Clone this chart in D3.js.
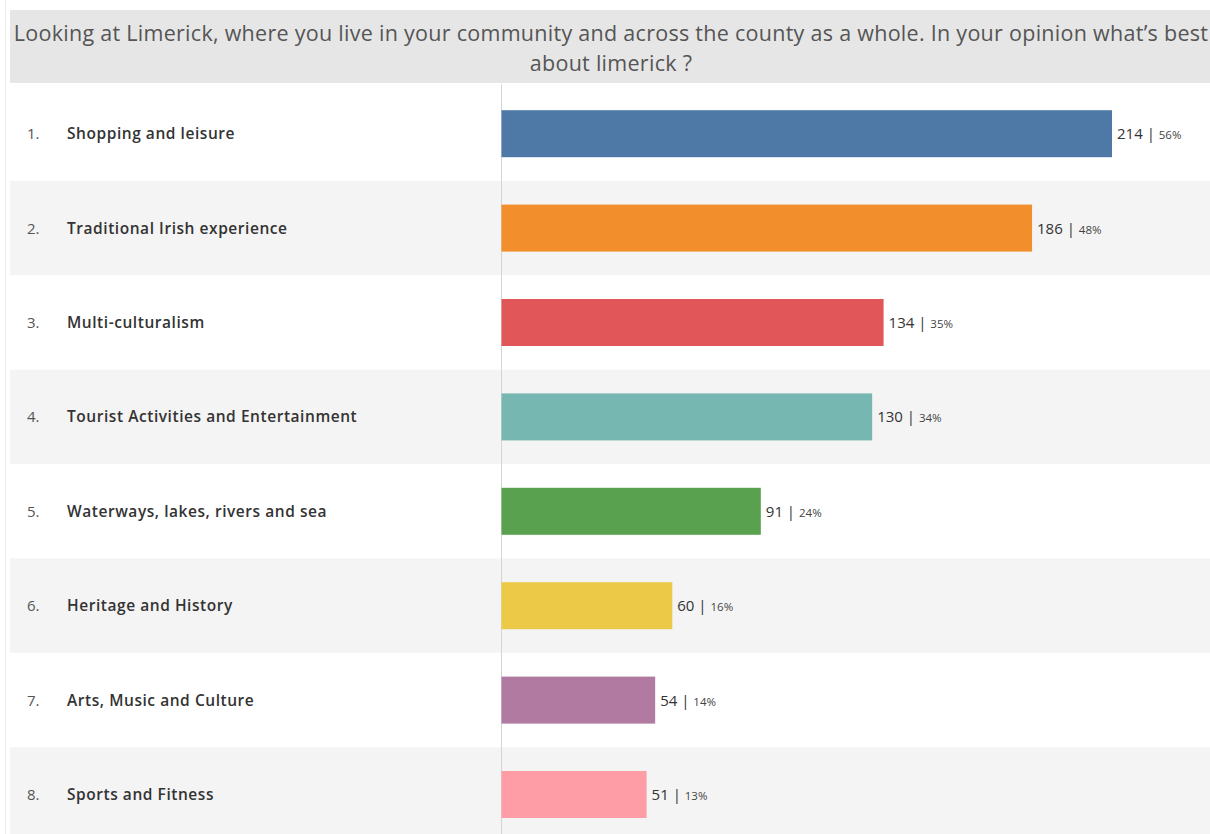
<!DOCTYPE html>
<html>
<head>
<meta charset="utf-8">
<script src="https://cdn.jsdelivr.net/npm/d3@7"></script>
<style>
  html, body { margin: 0; padding: 0; background: #fff; }
  svg { display: block; }
</style>
</head>
<body>
<svg id="chart" width="1210" height="834"></svg>
<script>
const titleLines = ["Looking at Limerick, where you live in your community and across the county as a whole. In your opinion what\u2019s best", "about limerick ?"];
const categories = ["Shopping and leisure", "Traditional Irish experience", "Multi-culturalism", "Tourist Activities and Entertainment", "Waterways, lakes, rivers and sea", "Heritage and History", "Arts, Music and Culture", "Sports and Fitness"];
const counts = [214, 186, 134, 130, 91, 60, 54, 51];
const percents = ["56%", "48%", "35%", "34%", "24%", "16%", "14%", "13%"];
const colors = ["#4e79a7", "#f28e2b", "#e15759", "#76b7b2", "#59a14f", "#edc948", "#b07aa1", "#ff9da7"];

(function () {
const svg = d3.select("#chart");
const W = 1210, H = 834;
const font = "'Open Sans', sans-serif";

// faint left border
svg.append("line").attr("x1", 5.5).attr("x2", 5.5).attr("y1", 0).attr("y2", H)
  .attr("stroke", "#ececec").attr("stroke-width", 1);

// title box
svg.append("rect").attr("x", 10).attr("y", 10).attr("width", W - 10).attr("height", 73).attr("fill", "#e6e6e6");
svg.selectAll("text.title").data(titleLines).join("text")
  .attr("class", "title")
  .attr("x", 611).attr("y", (d, i) => 40.5 + i * 30)
  .attr("text-anchor", "middle")
  .attr("font-family", font).attr("font-size", 21.5).attr("letter-spacing", 0.28).attr("fill", "#555")
  .text(d => d);

const rowH = 94.4;
const rowTop = 86.5;
const y = d3.scaleBand().domain(categories).range([rowTop, rowTop + rowH * categories.length]).paddingInner(0).paddingOuter(0);
const x = d3.scaleLinear().domain([0, 214]).range([501, 1112]);

svg.append("g").selectAll("rect").data(categories).join("rect")
  .attr("x", 10).attr("width", W - 10)
  .attr("y", d => y(d)).attr("height", y.bandwidth())
  .attr("fill", (d, i) => i % 2 ? "#f4f4f4" : "#ffffff");

// axis line
svg.append("line").attr("x1", x(0) + 0.5).attr("x2", x(0) + 0.5).attr("y1", rowTop - 2).attr("y2", H)
  .attr("stroke", "#d4d4d4").attr("stroke-width", 1);

const barH = 47;
svg.append("g").selectAll("rect").data(categories).join("rect")
  .attr("x", x(0) + 0.5)
  .attr("y", d => y(d) + y.bandwidth() / 2 - barH / 2)
  .attr("width", (d, i) => x(counts[i]) - x(0) - 0.5)
  .attr("height", barH)
  .attr("fill", (d, i) => colors[i]);

// rank numbers
svg.append("g").selectAll("text").data(categories).join("text")
  .attr("x", 27).attr("y", d => y(d) + y.bandwidth() / 2 + 5.5)
  .attr("font-family", font).attr("font-size", 15).attr("fill", "#555")
  .text((d, i) => (i + 1) + ".");

// category labels
svg.append("g").selectAll("text").data(categories).join("text")
  .attr("x", 67).attr("y", d => y(d) + y.bandwidth() / 2 + 5.5)
  .attr("font-family", font).attr("font-weight", 600).attr("font-size", 15.5).attr("letter-spacing", 0.55).attr("fill", "#333")
  .text(d => d);

// value labels
const vl = svg.append("g").selectAll("text").data(categories).join("text")
  .attr("x", (d, i) => x(counts[i]) + 5).attr("y", d => y(d) + y.bandwidth() / 2 + 5.5)
  .attr("font-family", font).attr("fill", "#333");
vl.append("tspan").attr("font-size", 15).text((d, i) => counts[i] + " | ");
vl.append("tspan").attr("font-size", 11.5).attr("fill", "#444").text((d, i) => percents[i]);
})();
</script>
</body>
</html>
